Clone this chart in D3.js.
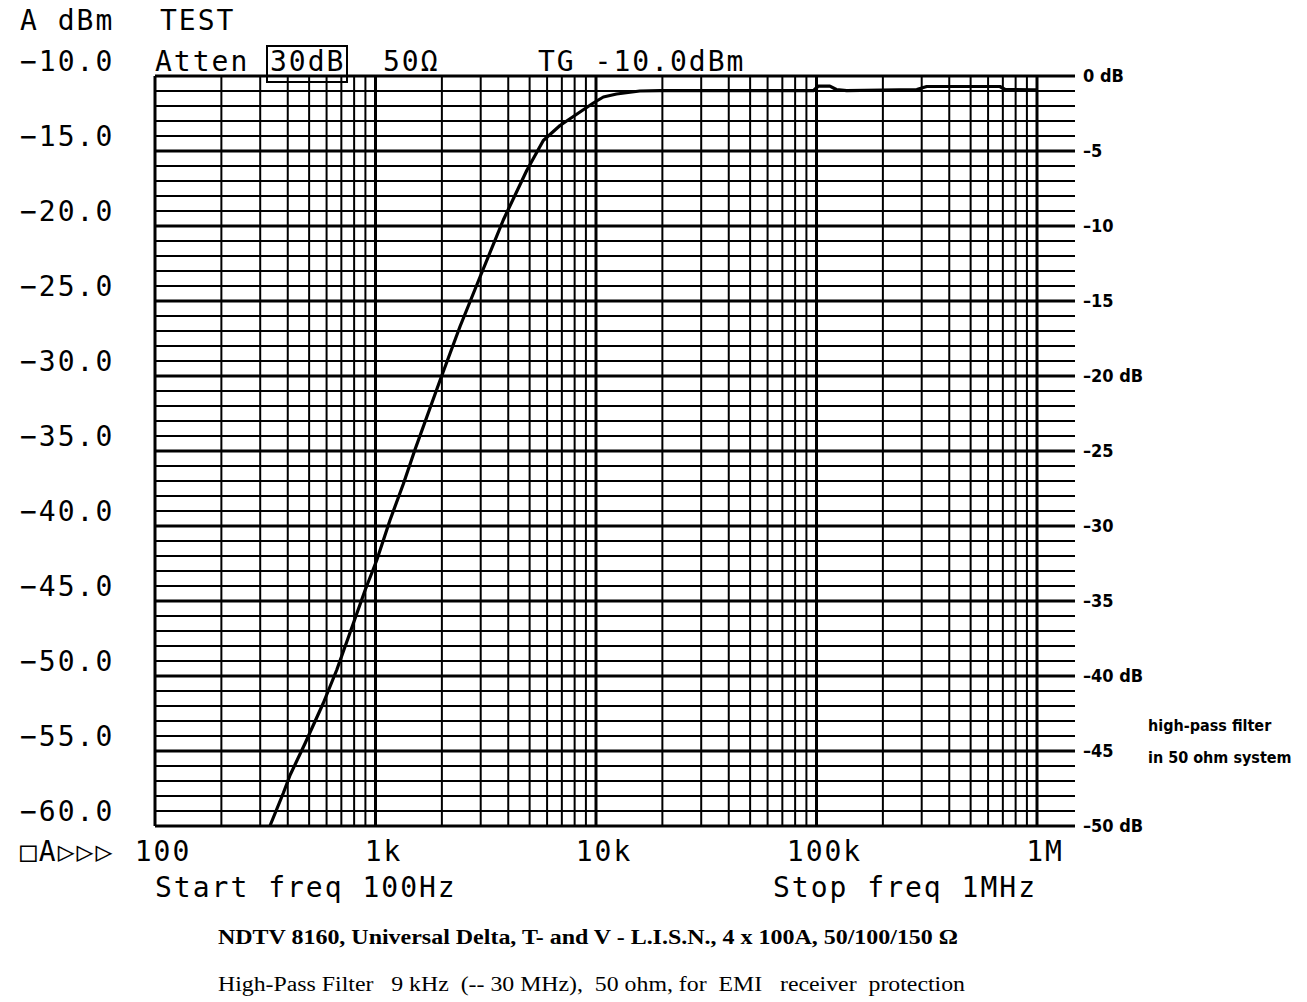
<!DOCTYPE html>
<html>
<head>
<meta charset="utf-8">
<script src="https://cdn.jsdelivr.net/npm/d3@7"></script>
<style>
    body { margin: 0; background: #fff; }
    .plotter { font-family: "DejaVu Sans Mono", monospace; font-size: 28px; letter-spacing: 2px; fill: #000; }
    .narrow { font-family: "Liberation Sans Narrow", "DejaVu Sans Condensed", sans-serif; font-weight: bold; fill: #000; }
    .serif { font-family: "Liberation Serif", "Times New Roman", serif; font-size: 20px; fill: #000; }
</style>
</head>
<body>
<svg id="chart" width="1307" height="1002"></svg>
<script>
/**
 * Data.
 */
const freqHz = [332, 382, 410, 479, 580, 667, 793, 896, 1012, 1164, 1337, 1511, 1961, 2417, 2978,
    3798, 4851, 5768, 6866, 8461, 9723, 10800, 12400, 15800, 19500, 96700, 102000, 115000,
    123000, 137000, 285000, 316000, 679000, 716000, 959000, 1000000];
const attenDb = [-50, -47.8, -46.6, -44.5, -41.8, -39.6, -36.5, -34.3, -32.3, -29.6, -27.2, -24.9, -20.3, -16.7, -13.4,
    -9.6, -6.3, -4.3, -3.3, -2.4, -1.8, -1.4, -1.2, -1.0, -0.98, -0.98, -0.67, -0.67,
    -0.9, -0.98, -0.9, -0.7, -0.7, -0.9, -0.93, -0.93];

const refLevelDbm = -10;
const leftTicksDbm = [-10, -15, -20, -25, -30, -35, -40, -45, -50, -55, -60];
const rightTicksDb = [0, -5, -10, -15, -20, -25, -30, -35, -40, -45, -50];
const rightTickLabels = ['0 dB', '–5', '–10', '–15', '–20 dB', '–25', '–30', '–35', '–40 dB', '–45', '–50 dB'];
const freqTicks = [100, 1e3, 1e4, 1e5, 1e6];
const freqTickLabels = ['100', '1k', '10k', '100k', '1M'];

/**
 * Layout.
 */
const svg = d3.select('#chart');
const plot = { left: 155, right: 1037, top: 76, bottom: 826, gridRight: 1075 };

const xScale = d3.scaleLog().domain([100, 1e6]).range([plot.left, plot.right]);
const yScale = d3.scaleLinear().domain([0, -50]).range([plot.top, plot.bottom]);
const dbmScale = d3.scaleLinear().domain([refLevelDbm, refLevelDbm - 50]).range([plot.top, plot.bottom]);

/**
 * Grid.
 */
const grid = svg.append('g').attr('class', 'grid').attr('stroke', '#000');

// Horizontal lines every dB, running past the right frame
grid.selectAll('line.h').data(d3.range(0, -51, -1))
    .enter().append('line')
        .attr('class', 'h')
        .attr('x1', plot.left).attr('x2', plot.gridRight)
        .attr('y1', d => yScale(d)).attr('y2', d => yScale(d))
        .attr('stroke-width', d => d % 5 === 0 ? 3 : 2);

// Vertical lines: 1..9 per decade
const vTicks = [];
d3.range(2, 6).forEach(e => d3.range(1, 10).forEach(m => vTicks.push(m * Math.pow(10, e))));
vTicks.push(1e6);
grid.selectAll('line.v').data(vTicks)
    .enter().append('line')
        .attr('class', 'v')
        .attr('x1', d => xScale(d)).attr('x2', d => xScale(d))
        .attr('y1', plot.top).attr('y2', plot.bottom)
        .attr('stroke-width', d => freqTicks.includes(d) ? 3 : 2);

/**
 * Trace.
 */
const line = d3.line().x(d => xScale(d[0])).y(d => yScale(d[1]));
svg.append('path')
    .datum(d3.zip(freqHz, attenDb))
    .attr('d', line)
    .attr('fill', 'none')
    .attr('stroke', '#000')
    .attr('stroke-width', 3.2)
    .attr('stroke-linejoin', 'round');

/**
 * Analyser annotations.
 */
const text = svg.append('g').attr('class', 'plotter');
text.append('text').attr('x', 20).attr('y', 30).text('A dBm');
text.append('text').attr('x', 160).attr('y', 30).text('TEST');
text.append('text').attr('x', 155).attr('y', 71).text('Atten');
text.append('text').attr('x', 270).attr('y', 71).text('30dB');
text.append('text').attr('x', 383).attr('y', 71).text('50Ω');
text.append('text').attr('x', 538).attr('y', 71).text('TG -10.0dBm');
svg.append('rect')
    .attr('x', 267).attr('y', 46).attr('width', 80).attr('height', 36)
    .attr('fill', 'none').attr('stroke', '#000').attr('stroke-width', 2);

// Left dBm scale
text.selectAll('text.ylab').data(leftTicksDbm)
    .enter().append('text')
        .attr('class', 'ylab')
        .attr('x', 20)
        .attr('y', d => dbmScale(d) - 5)
        .text(d => d3.format('.1f')(d).replace('-', '−'));

// Frequency ticks
text.selectAll('text.xlab').data(freqTicks)
    .enter().append('text')
        .attr('class', 'xlab')
        .attr('x', d => xScale(d) + 8)
        .attr('y', 861)
        .attr('text-anchor', 'middle')
        .text((d, i) => freqTickLabels[i]);

text.append('text').attr('x', 20).attr('y', 861).text('□A▷▷▷');
text.append('text').attr('x', 155).attr('y', 897).text('Start freq 100Hz');
text.append('text').attr('x', 1037).attr('y', 897).attr('text-anchor', 'end').text('Stop freq 1MHz');

/**
 * Right dB scale and notes.
 */
const right = svg.append('g').attr('class', 'narrow').attr('font-size', 18);
right.selectAll('text').data(rightTicksDb)
    .enter().append('text')
        .attr('x', 1083)
        .attr('y', d => yScale(d) + 6)
        .text((d, i) => rightTickLabels[i]);

const note = svg.append('g').attr('class', 'narrow').attr('font-size', 16);
note.append('text').attr('x', 1148).attr('y', 731).text('high-pass filter');
note.append('text').attr('x', 1148).attr('y', 763).text('in 50 ohm system');

/**
 * Caption.
 */
svg.append('text').attr('class', 'serif').attr('x', 218).attr('y', 944)
    .attr('font-weight', 'bold')
    .attr('textLength', 740).attr('lengthAdjust', 'spacingAndGlyphs')
    .text('NDTV 8160, Universal Delta, T- and V - L.I.S.N., 4 x 100A, 50/100/150 Ω');
svg.append('text').attr('class', 'serif').attr('x', 218).attr('y', 991)
    .attr('xml:space', 'preserve')
    .style('white-space', 'pre')
    .attr('textLength', 747).attr('lengthAdjust', 'spacingAndGlyphs')
    .text('High-Pass Filter   9 kHz  (-- 30 MHz),  50 ohm, for  EMI   receiver  protection');
</script>
</body>
</html>
